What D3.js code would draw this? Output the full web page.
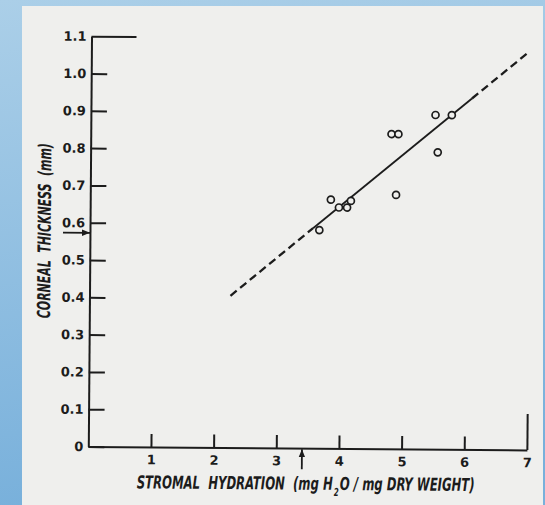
<!DOCTYPE html>
<html><head><meta charset="utf-8">
<script src="https://cdn.jsdelivr.net/npm/d3@7"></script>
<style>html,body{margin:0;padding:0;background:#fff}svg{display:block}</style>
</head><body>
<svg id="chart" width="545" height="505"></svg>
<script>
// ---- data ----
const hydration = [3.66, 3.84, 3.97, 4.10, 4.16, 4.80, 4.91, 4.88, 5.50, 5.76, 5.54];
const thickness = [0.585, 0.667, 0.646, 0.646, 0.664, 0.844, 0.844, 0.681, 0.896, 0.896, 0.796];
const fitX = [2.25, 3.56, 6.08, 6.99];
const fitY = [0.407, 0.590, 0.941, 1.068];
const fitStyle = ["dashed", "solid", "dashed"];
const xTicks = [1, 2, 3, 4, 5, 6, 7];
const xTickLabels = ["1", "2", "3", "4", "5", "6", "7"];
const yTicks = [0, 0.1, 0.2, 0.3, 0.4, 0.5, 0.6, 0.7, 0.8, 0.9, 1.0, 1.1];
const yTickLabels = ["0", "0.1", "0.2", "0.3", "0.4", "0.5", "0.6", "0.7", "0.8", "0.9", "1.0", "1.1"];
const markerHydration = 3.41;
const markerThickness = 0.573;
const xTitleParts = ["STROMAL  HYDRATION  (mg H", "2", "O / mg DRY WEIGHT)"];
const yTitle = "CORNEAL  THICKNESS  (mm)";

// ---- drawing ----
const svg = d3.select("#chart");
const defs = svg.append("defs");
const grad = defs.append("linearGradient").attr("id", "bg").attr("x1", 0).attr("y1", 0).attr("x2", 0.15).attr("y2", 1);
grad.append("stop").attr("offset", "0%").attr("stop-color", "#abcfe8");
grad.append("stop").attr("offset", "100%").attr("stop-color", "#78b0db");
defs.append("marker").attr("id", "arrow").attr("viewBox", "0 0 10 10")
  .attr("refX", 10).attr("refY", 5).attr("markerWidth", 8).attr("markerHeight", 8)
  .attr("markerUnits", "userSpaceOnUse").attr("orient", "auto")
  .append("path").attr("d", "M0,1 L10,5 L0,9 Z").attr("fill", "#1c1c1c");

svg.append("rect").attr("width", 545).attr("height", 505).attr("fill", "url(#bg)");
svg.append("rect").attr("x", 22).attr("y", 6).attr("width", 521).attr("height", 499).attr("fill", "#efefed");

const x = d3.scaleLinear().domain([0, 7]).range([88.3, 526.9]);
const y = d3.scaleLinear().domain([0, 1.1]).range([446.5, 36.2]);

const g = svg.append("g").attr("transform", `rotate(0.45, ${x(0)}, ${y(0)})`);
const ink = "#1c1c1c";
const titleFont = "'Liberation Sans Narrow', 'DejaVu Sans Condensed', 'Liberation Sans', sans-serif";

// x axis
const xa = g.append("g").attr("transform", `translate(0,${y(0)})`)
  .call(d3.axisBottom(x).tickValues(xTicks).tickFormat((d, i) => xTickLabels[i])
    .tickSizeInner(-13).tickSizeOuter(0).tickPadding(8));
xa.selectAll("line, path").attr("stroke", ink).attr("stroke-width", 2);
xa.selectAll(".tick").filter(d => d === 7).select("line").attr("y2", -36);
xa.selectAll("text").attr("font-family", "DejaVu Sans").attr("font-weight", "bold")
  .attr("font-size", 13).attr("fill", ink);

// y axis
const ya = g.append("g").attr("transform", `translate(${x(0)},0)`)
  .call(d3.axisLeft(y).tickValues(yTicks).tickFormat((d, i) => yTickLabels[i])
    .tickSizeInner(-16).tickSizeOuter(0).tickPadding(5));
ya.selectAll("line, path").attr("stroke", ink).attr("stroke-width", 2);
ya.selectAll(".tick").filter(d => Math.abs(d - 1.1) < 1e-9).select("line").attr("x2", 45);
ya.selectAll("text").attr("font-family", "DejaVu Sans").attr("font-weight", "bold")
  .attr("font-size", 13).attr("fill", ink);

// arrows marking normal values
g.append("line").attr("x1", x(0) - 27).attr("x2", x(0))
  .attr("y1", y(markerThickness)).attr("y2", y(markerThickness))
  .attr("stroke", ink).attr("stroke-width", 1.8).attr("marker-end", "url(#arrow)");
g.append("line").attr("x1", x(markerHydration)).attr("x2", x(markerHydration))
  .attr("y1", y(0) + 21).attr("y2", y(0) + 1)
  .attr("stroke", ink).attr("stroke-width", 1.8).attr("marker-end", "url(#arrow)");

// regression line
fitStyle.forEach((s, i) => {
  g.append("line")
    .attr("x1", x(fitX[i])).attr("y1", y(fitY[i]))
    .attr("x2", x(fitX[i + 1])).attr("y2", y(fitY[i + 1]))
    .attr("stroke", ink).attr("stroke-width", s === "dashed" ? 2.3 : 1.8)
    .attr("stroke-dasharray", s === "dashed" ? "8,4.5" : null);
});

// data points
g.selectAll("circle.pt").data(hydration).enter().append("circle")
  .attr("class", "pt")
  .attr("cx", d => x(d)).attr("cy", (d, i) => y(thickness[i]))
  .attr("r", 3.5).attr("fill", "#efefed").attr("stroke", ink).attr("stroke-width", 1.7);

// x title: three pieces laid side by side, then condensed to the reference width
const xtOuter = g.append("g").attr("transform", "translate(137,488)");
const xtInner = xtOuter.append("g");
function titlePart(sel, txt, size, dy) {
  return sel.append("text").attr("y", dy)
    .attr("font-family", titleFont).attr("font-weight", 600).attr("font-style", "italic")
    .attr("font-size", size).attr("fill", ink).style("white-space", "pre").text(txt);
}
const p1 = titlePart(xtInner, xTitleParts[0], 18, 0);
const w1 = p1.node().getComputedTextLength();
const p2 = titlePart(xtInner, xTitleParts[1], 11, 6).attr("x", w1 + 1.5);
const w2 = p2.node().getComputedTextLength();
const p3 = titlePart(xtInner, xTitleParts[2], 18, 0).attr("x", w1 + w2 + 3);
const wTot = w1 + w2 + 3 + p3.node().getComputedTextLength();
xtInner.attr("transform", `scale(${338 / wTot},1)`);

g.append("text").attr("transform", "translate(49,231) rotate(-90)").attr("text-anchor", "middle")
  .attr("font-family", titleFont).attr("font-weight", 600)
  .attr("font-style", "italic").attr("font-size", 18).attr("fill", ink)
  .attr("textLength", 175).attr("lengthAdjust", "spacingAndGlyphs")
  .style("white-space", "pre").text(yTitle);
</script>
</body></html>
